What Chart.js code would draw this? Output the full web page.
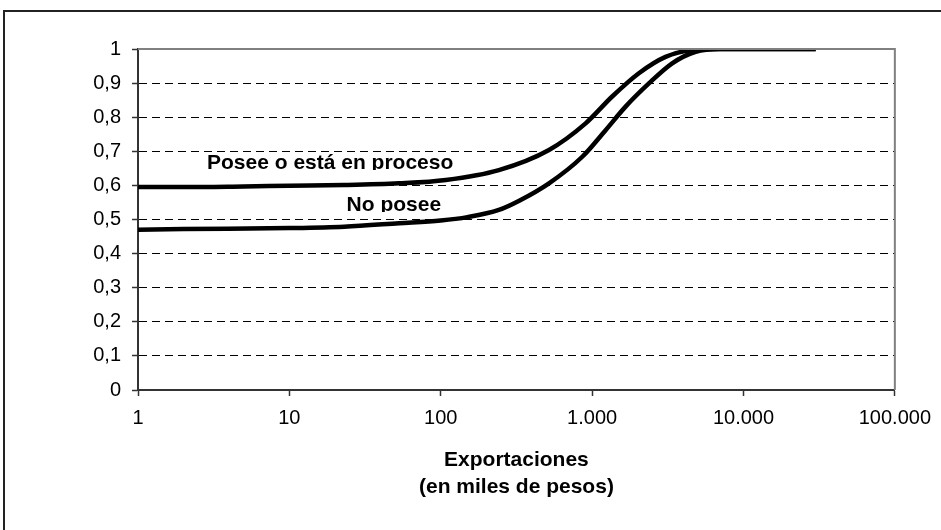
<!DOCTYPE html>
<html>
<head>
<meta charset="utf-8">
<script src="https://cdn.jsdelivr.net/npm/chart.js@4/dist/chart.umd.min.js"></script>
<style>
  html, body { margin: 0; padding: 0; background: #fff; overflow: hidden; }
  canvas { display: block; }
</style>
</head>
<body>
<canvas id="curvas" width="941" height="530"></canvas>
<script>
// Probabilidad estimada segun exportaciones (miles de pesos, escala log)
const xTickValues = [1, 10, 100, 1000, 10000, 100000];
const xTickLabels = ['1', '10', '100', '1.000', '10.000', '100.000'];
const yTickLabels = ['0', '0,1', '0,2', '0,3', '0,4', '0,5', '0,6', '0,7', '0,8', '0,9', '1'];

// Serie "Posee o está en proceso"
const poseeX = [1, 2, 5, 10, 23, 53, 108, 242, 519, 906, 1352, 2037, 3055, 4570, 7000, 30000];
const poseeY = [0.595, 0.595, 0.597, 0.599, 0.601, 0.606, 0.616, 0.645, 0.704, 0.782, 0.86, 0.929, 0.977, 0.997, 1.0, 1.0];

// Serie "No posee"
const noPoseeX = [1, 2, 10, 23, 53, 100, 150, 242, 330, 519, 861, 1228, 1664, 2372, 3381, 4830, 7000, 30000];
const noPoseeY = [0.470, 0.472, 0.475, 0.479, 0.489, 0.497, 0.507, 0.528, 0.555, 0.606, 0.684, 0.762, 0.831, 0.899, 0.958, 0.992, 1.0, 1.0];

// Etiquetas sobre las curvas (x centro, y base del texto)
const etiquetas = [
    { texto: 'Posee o está en proceso', x: 18.6, y: 0.648 },
    { texto: 'No posee', x: 49, y: 0.525 }
];

const toPoints = (xs, ys) => xs.map((x, i) => ({ x: x, y: ys[i] }));

// Marco exterior, borde del área de trazado y textos sobre las curvas
const extras = {
    id: 'extras',
    beforeDraw(chart) {
        const ctx = chart.ctx;
        ctx.save();
        ctx.strokeStyle = '#222';
        ctx.lineWidth = 2;
        ctx.strokeRect(4, 11, 1000, 1000);
        ctx.restore();
    },
    afterDatasetsDraw(chart) {
        const { ctx, chartArea: a, scales } = chart;
        ctx.save();
        ctx.strokeStyle = '#808080';
        ctx.lineWidth = 2;
        ctx.beginPath();
        ctx.moveTo(a.left, a.top);
        ctx.lineTo(a.right, a.top);
        ctx.lineTo(a.right, a.bottom);
        ctx.stroke();

        ctx.fillStyle = '#000';
        ctx.font = 'bold 21px "Liberation Sans", Arial, sans-serif';
        ctx.textAlign = 'center';
        ctx.textBaseline = 'alphabetic';
        etiquetas.forEach(e => {
            const px = scales.x.getPixelForValue(e.x);
            const py = scales.y.getPixelForValue(e.y);
            ctx.save();
            ctx.beginPath();
            ctx.rect(0, 0, 941, py + 1);
            ctx.clip();
            ctx.fillText(e.texto, px, py);
            ctx.restore();
        });
        ctx.restore();
    }
};

const lineStyle = {
    borderColor: '#000',
    borderWidth: 4.5,
    pointRadius: 0,
    fill: false,
    cubicInterpolationMode: 'monotone'
};

new Chart(document.getElementById('curvas'), {
    type: 'line',
    data: {
        datasets: [
            Object.assign({ label: 'Posee o está en proceso', data: toPoints(poseeX, poseeY) }, lineStyle),
            Object.assign({ label: 'No posee', data: toPoints(noPoseeX, noPoseeY) }, lineStyle)
        ]
    },
    options: {
        responsive: false,
        animation: false,
        layout: { padding: { top: 49, right: 45, left: 0, bottom: 0 } },
        plugins: {
            legend: { display: false },
            tooltip: { enabled: false }
        },
        scales: {
            x: {
                type: 'logarithmic',
                min: 1,
                max: 100000,
                afterFit: scale => { scale.height = 140; },
                afterBuildTicks: scale => {
                    scale.ticks = xTickValues.map(v => ({ value: v }));
                },
                ticks: {
                    autoSkip: false,
                    maxRotation: 0,
                    padding: 10,
                    color: '#000',
                    font: { family: '"Liberation Sans", Arial, sans-serif', size: 20 },
                    callback: function(value) {
                        const i = xTickValues.indexOf(value);
                        return i >= 0 ? xTickLabels[i] : '';
                    }
                },
                grid: {
                    drawOnChartArea: false,
                    drawTicks: true,
                    tickLength: 6,
                    tickColor: '#333',
                    tickWidth: 1.5
                },
                border: { display: true, color: '#333', width: 2 },
                title: {
                    display: true,
                    text: ['Exportaciones', '(en miles de pesos)'],
                    color: '#000',
                    font: { family: '"Liberation Sans", Arial, sans-serif', size: 21, weight: 'bold', lineHeight: 1.3 },
                    padding: { top: 0, bottom: 29 }
                }
            },
            y: {
                min: 0,
                max: 1,
                afterFit: scale => { scale.width = 138; },
                afterBuildTicks: scale => {
                    scale.ticks = yTickLabels.map((t, i) => ({ value: i / 10 }));
                },
                ticks: {
                    padding: 11,
                    color: '#000',
                    font: { family: '"Liberation Sans", Arial, sans-serif', size: 20 },
                    callback: function(value, index) {
                        return yTickLabels[index];
                    }
                },
                grid: {
                    color: ctx => (ctx.tick && ctx.tick.value > 0 && ctx.tick.value < 1) ? '#000' : 'rgba(0,0,0,0)',
                    lineWidth: 1,
                    drawTicks: true,
                    tickLength: 6,
                    tickColor: '#333',
                    tickWidth: 1.5
                },
                border: { display: true, color: '#333', width: 2, dash: [8, 5] }
            }
        }
    },
    plugins: [extras]
});
</script>
</body>
</html>
